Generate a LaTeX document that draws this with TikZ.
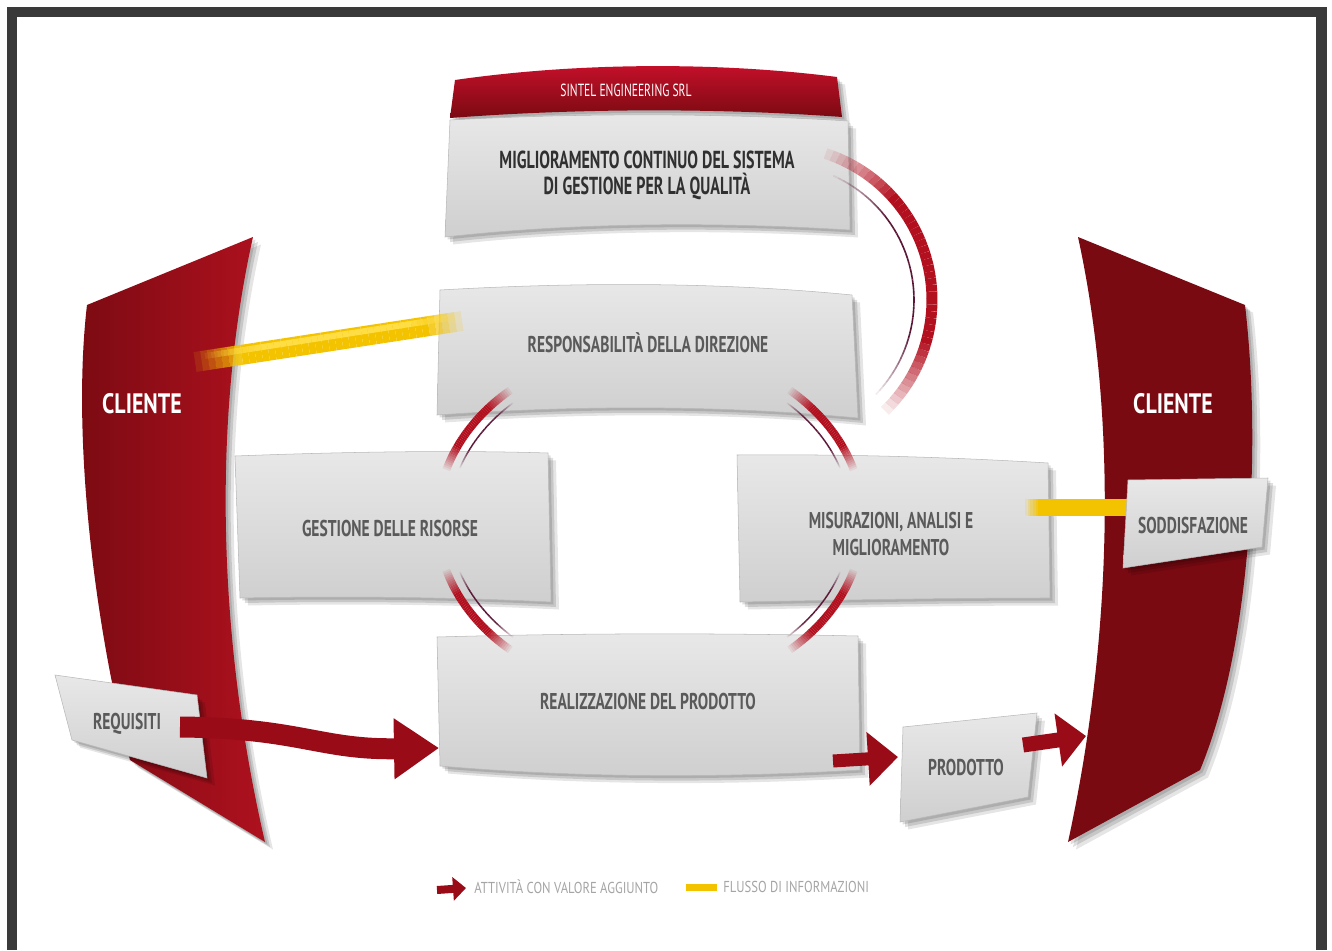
\documentclass[tikz,border=0pt]{standalone}
\usepackage{fontspec}
\setmainfont{PT Sans}
\newfontfamily\fBox{PT Sans}[FakeStretch=0.68]
\newfontfamily\fTop{PT Sans}[FakeStretch=0.65]
\newfontfamily\fBan{PT Sans}[FakeStretch=0.66]
\newfontfamily\fCli{PT Sans}[FakeStretch=0.78]
\newfontfamily\fLeg{PT Sans}[FakeStretch=0.8]
\usetikzlibrary{arrows.meta,calc}

\definecolor{frameC}{HTML}{3A3A3A}
\definecolor{redDk}{HTML}{7A0A12}
\definecolor{redMd}{HTML}{AE111E}
\definecolor{redBr}{HTML}{C8102A}
\definecolor{arrowC}{HTML}{9A0B18}
\definecolor{arcC}{HTML}{B3101F}
\definecolor{arcThin}{HTML}{5B1636}
\definecolor{boxT}{HTML}{E8E8E8}
\definecolor{boxB}{HTML}{CFCFCF}
\definecolor{boxE}{HTML}{B8B8B8}
\definecolor{txtC}{HTML}{5A5A5A}
\definecolor{txtDk}{HTML}{303030}
\definecolor{yelC}{HTML}{F4C300}
\definecolor{yelL}{HTML}{FFDD45}
\definecolor{legC}{HTML}{A5A5A5}

\tikzset{
  softshadow/.style={
    preaction={fill=black, opacity=0.13, transform canvas={shift={(0.05cm,-0.05cm)}}},
    preaction={fill=black, opacity=0.13, transform canvas={shift={(0.10cm,-0.10cm)}}},
    preaction={fill=black, opacity=0.10, transform canvas={shift={(0.16cm,-0.15cm)}}}},
  greybox/.style={softshadow, top color=boxT, bottom color=boxB, draw=boxE, line width=0.3pt},
  clientbar/.style={softshadow},
  boxtext/.style={font=\fBox\bfseries\fontsize{13}{15}\selectfont, text=txtC, align=center, inner sep=0pt},
  toptext/.style={font=\fTop\bfseries\fontsize{14}{14.8}\selectfont, text=txtDk, align=center, inner sep=0pt},
  bannertext/.style={font=\fBan\fontsize{10}{11}\selectfont, text=white, inner sep=0pt},
  clienttext/.style={font=\fCli\bfseries\fontsize{16}{18}\selectfont, text=white, inner sep=0pt},
  legendtext/.style={font=\fLeg\fontsize{9}{10}\selectfont, text=legC, inner sep=0pt, anchor=west},
  redarrow/.style={draw=arrowC, line cap=butt},
}

% faded elliptic arc: centre, radii, angle range, width, colour
\newcommand\fadearc[8]{%
  \foreach \k in {0,...,47}{%
    \pgfmathsetmacro\aA{#5+(#6-#5)*\k/48}%
    \pgfmathsetmacro\aB{#5+(#6-#5)*(\k+1)/48}%
    \pgfmathsetmacro\op{min(1,(min(\k,47-\k)+1)/13)}%
    \draw[line width=#7, draw=#8, draw opacity=\op, line cap=butt]
      plot[domain=\aA:\aB, samples=2] ({#1+#3*cos(\x)},{#2+#4*sin(\x)});
  }%
}

% straight bar between two named points, faded at its ends
\newcommand\fadebar[6]{%
  \foreach \k in {0,...,39}{%
    \pgfmathsetmacro\tA{\k/40}%
    \pgfmathsetmacro\tB{(\k+1)/40}%
    \pgfmathsetmacro\op{min(1,min((\k+1)/#5,(40-\k)/#6))}%
    \draw[line width=#3, draw=#4, draw opacity=\op, line cap=butt]
      ($(#1)!\tA!(#2)$) -- ($(#1)!\tB!(#2)$);
  }%
}

\begin{document}
\begin{tikzpicture}[x=0.02cm,y=-0.02cm]
\useasboundingbox (0,0) rectangle (1332,950);
\fill[white] (0,0) rectangle (1332,950);

% dark frame
\fill[frameC] (7,7) rectangle (1327,17);
\fill[frameC] (7,7) rectangle (17,950);
\fill[frameC] (1316,7) rectangle (1327,950);

% customer banners
\path[clientbar, left color=redDk, middle color=redMd, right color=redMd]
  (87,305) -- (253,237) .. controls (212,420) and (218,640) .. (265,842)
  -- (130,760) .. controls (100,650) and (70,450) .. (87,305) -- cycle;
\path[clientbar, left color=redDk, middle color=redMd, right color=redDk]
  (1078,237) -- (1245,305) .. controls (1262,450) and (1250,650) .. (1200,770)
  -- (1068,842) .. controls (1112,640) and (1118,420) .. (1078,237) -- cycle;
\node[clienttext] (clienteL) at (142,404) {CLIENTE};
\node[clienttext] (clienteR) at (1173,404) {CLIENTE};

% company banner and top box
\path[softshadow, top color=redBr, bottom color=redDk]
  (455,80) .. controls (580,62) and (720,62) .. (837,77)
  -- (842,117) .. controls (720,108) and (580,108) .. (450,118) -- cycle;
\node[bannertext] (sintel) at (626,90) {SINTEL ENGINEERING SRL};
\path[greybox]
  (450,120) .. controls (580,113) and (720,113) .. (848,121)
  -- (850,230) .. controls (720,222) and (580,222) .. (445,237) -- cycle;
\node[toptext] (migl) at (647,175) {MIGLIORAMENTO CONTINUO DEL SISTEMA\\DI GESTIONE PER LA QUALITÀ};

% process boxes
\path[greybox]
  (440,290) .. controls (580,282) and (720,282) .. (852,295)
  -- (858,418) .. controls (720,405) and (580,405) .. (437,415) -- cycle;
\node[boxtext] (resp) at (648,343) {RESPONSABILITÀ DELLA DIREZIONE};

\path[greybox]
  (235,456) .. controls (340,452) and (450,450) .. (548,453)
  -- (551,602) .. controls (450,597) and (340,596) .. (240,598) -- cycle;
\node[boxtext] (gest) at (390,528) {GESTIONE DELLE RISORSE};

\path[greybox]
  (737,455) .. controls (840,454) and (950,457) .. (1048,463)
  -- (1050,598) .. controls (950,598) and (840,600) .. (740,602) -- cycle;
\node[boxtext] (mis) at (891,534) {MISURAZIONI, ANALISI E\\MIGLIORAMENTO};

\path[greybox]
  (437,637) .. controls (580,633) and (720,633) .. (858,636)
  -- (860,770) .. controls (720,778) and (580,778) .. (440,766) -- cycle;
\node[boxtext] (real) at (648,701) {REALIZZAZIONE DEL PRODOTTO};

% ring of the process cycle
\fadearc{650}{520}{213}{172}{197}{229}{0.16cm}{arcC}
\fadearc{650}{520}{201}{160}{199}{227}{0.03cm}{arcThin}
\fadearc{650}{520}{213}{172}{311}{343}{0.16cm}{arcC}
\fadearc{650}{520}{201}{160}{313}{341}{0.03cm}{arcThin}
\fadearc{650}{520}{213}{172}{131}{163}{0.16cm}{arcC}
\fadearc{650}{520}{201}{160}{133}{161}{0.03cm}{arcThin}
\fadearc{650}{520}{213}{172}{17}{49}{0.16cm}{arcC}
\fadearc{650}{520}{201}{160}{19}{47}{0.03cm}{arcThin}

% continual improvement loop
\fadearc{778}{300}{154}{154}{-72}{46}{0.22cm}{arcC}
\fadearc{778}{300}{136}{136}{-66}{44}{0.032cm}{arcThin}

% information flows
\coordinate (clOut) at (195,362);
\coordinate (respIn) at (462,321);
\fadebar{clOut}{respIn}{0.4cm}{yelC}{8}{6}
\coordinate (clOutH) at (205,356);
\coordinate (respInH) at (455,317);
\fadebar{clOutH}{respInH}{0.12cm}{yelL}{10}{8}
\coordinate (misOut) at (1025,507);
\coordinate (sodIn) at (1132,507);
\fadebar{misOut}{sodIn}{0.34cm}{yelC}{6}{1}

% requirements and satisfaction
\path[greybox] (55,675) -- (197,695) -- (207,778) -- (72,740) -- cycle;
\node[boxtext] (req) at (127,724) {REQUISITI};
\path[greybox] (1128,480) -- (1268,478) -- (1262,547) -- (1123,568) -- cycle;
\node[boxtext] (sod) at (1193,525) {SODDISFAZIONE};

% value adding flow
\coordinate (reqOut) at (180,727);
\coordinate (realIn) at (439,748);
\draw[redarrow, line width=0.42cm, -{Triangle[length=0.9cm,width=1.16cm]}]
  (reqOut) .. controls (300,728) and (320,750) .. (realIn);
\coordinate (realOut) at (833,761);
\coordinate (prodIn) at (898,757);
\draw[redarrow, line width=0.26cm, -{Triangle[length=0.6cm,width=1.04cm]}]
  (realOut) -- (prodIn);
\path[greybox] (903,727) -- (1037,713) -- (1028,797) -- (900,822) -- cycle;
\node[boxtext] (prod) at (966,767) {PRODOTTO};
\coordinate (prodOut) at (1023,745);
\coordinate (clIn) at (1086,736);
\draw[redarrow, line width=0.3cm, -{Triangle[length=0.56cm,width=1.04cm]}]
  (prodOut) -- (clIn);

% legend
\coordinate (legA1) at (437,890);
\coordinate (legA2) at (466,888);
\draw[redarrow, line width=0.16cm, -{Triangle[length=0.26cm,width=0.46cm]}] (legA1) -- (legA2);
\node[legendtext] (legA) at (474,887) {ATTIVITÀ CON VALORE AGGIUNTO};
\coordinate (legY1) at (686,887);
\coordinate (legY2) at (717,887);
\draw[line width=0.14cm, draw=yelC] (legY1) -- (legY2);
\node[legendtext] (legY) at (723,887) {FLUSSO DI INFORMAZIONI};
\end{tikzpicture}
\end{document}
